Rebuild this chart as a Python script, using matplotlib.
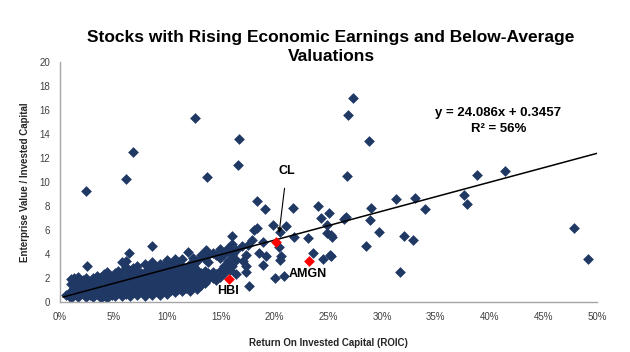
import matplotlib
matplotlib.use("Agg")
import matplotlib.pyplot as plt
import numpy as np
from matplotlib.ticker import FuncFormatter

plt.rcParams['font.family'] = ['Liberation Sans', 'DejaVu Sans']

# dense cluster of companies (ROIC %, EV/IC)
cluster_roic = [
    0.6,
    1.0, 1.0, 1.0, 1.0,
    1.3, 1.3, 1.3,
    1.7, 1.7, 1.7, 1.7,
    2.1, 2.1, 2.1,
    2.4, 2.4, 2.4, 2.4,
    2.8, 2.8, 2.8,
    3.1, 3.1, 3.1, 3.1,
    3.4, 3.4, 3.4, 3.4,
    3.8, 3.8, 3.8, 3.8, 3.8,
    4.1, 4.1, 4.1, 4.1,
    4.4, 4.4, 4.4, 4.4, 4.4,
    4.8, 4.8, 4.8, 4.8,
    5.1, 5.1, 5.1, 5.1, 5.1,
    5.4, 5.4, 5.4, 5.4, 5.4,
    5.8, 5.8, 5.8, 5.8, 5.8, 5.8,
    6.1, 6.1, 6.1, 6.1, 6.1,
    6.5, 6.5, 6.5, 6.5, 6.5,
    6.8, 6.8, 6.8, 6.8, 6.8,
    7.2, 7.2, 7.2, 7.2, 7.2, 7.2,
    7.5, 7.5, 7.5, 7.5,
    7.9, 7.9, 7.9, 7.9, 7.9, 7.9,
    8.2, 8.2, 8.2, 8.2, 8.2,
    8.6, 8.6, 8.6, 8.6, 8.6, 8.6,
    8.9, 8.9, 8.9, 8.9, 8.9,
    9.3, 9.3, 9.3, 9.3, 9.3, 9.3,
    9.6, 9.6, 9.6, 9.6, 9.6,
    10.0, 10.0, 10.0, 10.0, 10.0, 10.0,
    10.3, 10.3, 10.3, 10.3, 10.3,
    10.7, 10.7, 10.7, 10.7, 10.7, 10.7,
    11.0, 11.0, 11.0, 11.0, 11.0,
    11.4, 11.4, 11.4, 11.4, 11.4, 11.4,
    11.7, 11.7, 11.7, 11.7,
    12.1, 12.1, 12.1, 12.1, 12.1,
    12.4, 12.4, 12.4, 12.4, 12.4,
    12.8, 12.8, 12.8, 12.8, 12.8,
    13.1, 13.1, 13.1, 13.1,
    13.5, 13.5, 13.5, 13.5, 13.5,
    13.8, 13.8, 13.8, 13.8,
    14.2, 14.2, 14.2,
    14.5, 14.5, 14.5,
    14.9, 14.9, 14.9, 14.9,
    15.3, 15.3, 15.3,
    15.6, 15.6, 15.6,
    16.0, 16.0, 16.0,
    16.4, 16.4, 16.4,
    17.3, 17.3,
]
cluster_ev = [
    0.55,
    0.35, 0.9, 1.5, 1.9,
    0.6, 1.2, 2.0,
    0.45, 1.0, 1.6, 2.1,
    0.7, 1.3, 1.8,
    0.4, 1.0, 1.6, 2.0,
    0.6, 1.2, 1.7,
    0.4, 0.9, 1.4, 2.0,
    0.7, 1.2, 1.8, 2.2,
    0.3, 0.8, 1.3, 1.7, 2.1,
    0.55, 1.0, 1.5, 2.3,
    0.35, 0.9, 1.3, 1.8, 2.5,
    0.6, 1.1, 1.6, 2.1,
    0.5, 1.0, 1.4, 1.9, 2.4,
    0.8, 1.2, 1.7, 2.2, 2.6,
    0.5, 1.0, 1.5, 2.0, 2.5, 3.3,
    0.7, 1.2, 1.8, 2.3, 2.9,
    0.5, 1.0, 1.5, 2.0, 2.6,
    0.8, 1.3, 1.7, 2.2, 2.8,
    0.6, 1.1, 1.6, 2.1, 2.6, 3.0,
    0.9, 1.4, 1.9, 2.4,
    0.5, 1.0, 1.5, 2.0, 2.5, 3.2,
    0.8, 1.3, 1.8, 2.3, 2.9,
    0.6, 1.1, 1.6, 2.1, 2.6, 3.3,
    0.9, 1.4, 1.9, 2.4, 2.9,
    0.6, 1.2, 1.7, 2.2, 2.7, 3.2,
    0.9, 1.4, 1.9, 2.5, 3.0,
    0.7, 1.2, 1.7, 2.2, 2.8, 3.5,
    1.0, 1.5, 2.0, 2.5, 3.1,
    0.8, 1.3, 1.8, 2.3, 2.9, 3.6,
    1.1, 1.6, 2.1, 2.7, 3.3,
    0.9, 1.4, 1.9, 2.4, 3.0, 3.6,
    1.2, 1.7, 2.2, 2.8,
    0.9, 1.5, 2.0, 2.6, 3.2,
    1.3, 1.8, 2.3, 3.0, 3.7,
    1.1, 1.6, 2.1, 2.7, 3.4,
    1.4, 1.9, 2.4, 3.9,
    1.6, 2.2, 2.6, 3.6, 4.2,
    1.9, 2.4, 3.3, 3.9,
    2.0, 2.5, 4.1,
    1.8, 2.3, 3.9,
    2.1, 2.6, 3.7, 4.4,
    2.4, 3.0, 4.0,
    2.8, 3.4, 4.5,
    3.0, 3.9, 4.8,
    2.3, 3.5, 4.3,
    3.0, 3.9,
]

# scattered companies away from the cluster
other_roic = [2.4, 6.1, 6.8, 12.6, 13.7, 2.5, 6.4, 6.1, 8.6, 11.9, 13.6,
              16.7, 16.6, 18.3, 19.1, 21.7, 18.3, 19.8, 21.0,
              27.3, 26.8, 28.8, 26.7, 24.0, 25.0, 26.6, 26.4, 29.0, 28.9,
              31.3, 29.7, 28.5, 25.2, 24.9, 25.3, 23.1, 21.8, 20.5, 18.1,
              16.0, 17.9, 20.4, 20.6, 20.5, 23.6, 24.5, 25.1, 20.0, 20.9,
              17.6, 19.2, 18.5, 17.3, 31.7, 17.0, 38.8, 41.4, 37.6, 37.9,
              33.1, 34.0, 32.0, 32.9, 24.3, 24.9, 25.2, 47.9, 49.2, 18.9,
              17.5, 18.9, 16.1, 15.8, 16.9]
other_ev = [9.27, 10.25, 12.5, 15.3, 10.4, 3.0, 4.05, 3.4, 4.67, 4.2, 4.33,
            13.6, 11.4, 8.45, 7.75, 7.86, 6.2, 6.4, 6.3,
            17.0, 15.6, 13.4, 10.5, 8.0, 7.45, 7.1, 6.9, 7.8, 6.8,
            8.55, 5.8, 4.67, 5.6, 6.45, 5.45, 5.3, 5.4, 5.8, 6.0,
            5.5, 5.2, 4.6, 3.8, 3.5, 4.05, 3.55, 3.95, 2.0, 2.17,
            1.33, 3.8, 4.1, 2.5, 2.5, 3.4, 10.55, 10.9, 8.95, 8.2,
            8.67, 7.75, 5.5, 5.2, 6.97, 5.75, 3.86, 6.14, 3.56, 5.0,
            4.75, 3.1, 4.1, 2.7, 4.67]

# highlighted stocks
hl_names = ['CL', 'AMGN', 'HBI']
hl_roic = [20.1, 23.2, 15.7]
hl_ev = [5.0, 3.45, 1.9]

# linear fit shown on the chart (x as fraction)
fit_slope = 24.086
fit_intercept = 0.3457
fit_r2 = 0.56

navy = '#1F3864'
msize = 30

fig = plt.figure(figsize=(6.3, 3.52), dpi=100)
ax = fig.add_axes([60 / 630, 50 / 352, 537 / 630, 240 / 352])

ax.scatter(cluster_roic, cluster_ev, marker='D', s=msize, color=navy, linewidths=0, zorder=2)
ax.scatter(other_roic, other_ev, marker='D', s=msize, color=navy, linewidths=0, zorder=2)
ax.scatter(hl_roic, hl_ev, marker='D', s=msize, color='#FF0000', linewidths=0, zorder=4)

xs = np.array([0.3, 50.0])
ax.plot(xs, fit_slope * xs / 100 + fit_intercept, color='black', lw=1.1, zorder=3)

ax.set_xlim(0, 50)
ax.set_ylim(0, 20)
ax.set_xticks(range(0, 51, 5))
ax.set_yticks(range(0, 21, 2))
ax.xaxis.set_major_formatter(FuncFormatter(lambda v, p: f'{v:.0f}%'))
ax.tick_params(length=0, labelsize=7, colors='#404040', pad=7)
for s in ['top', 'right']:
    ax.spines[s].set_visible(False)
for s in ['left', 'bottom']:
    ax.spines[s].set_color('#A6A6A6')
    ax.spines[s].set_linewidth(1.0)

ax.set_xlabel('Return On Invested Capital (ROIC)', fontsize=7, fontweight='bold',
              color='#262626', labelpad=12)
ax.set_ylabel('Enterprise Value / Invested Capital', fontsize=7, fontweight='bold',
              color='#262626', labelpad=7)

# labels for highlighted stocks
ax.annotate('CL', xy=(20.4, 5.75), xytext=(21.1, 10.9), ha='center', va='center',
            fontsize=9, fontweight='bold',
            arrowprops=dict(arrowstyle='-|>', color='black', lw=0.8, mutation_scale=7,
                            shrinkA=6, shrinkB=0))
ax.text(23.1, 2.33, 'AMGN', ha='center', va='center', fontsize=9, fontweight='bold')
ax.text(15.6, 0.9, 'HBI', ha='center', va='center', fontsize=9, fontweight='bold')

ax.text(40.8, 15.75, f'y = {fit_slope}x + {fit_intercept}', ha='center', va='center',
        fontsize=9.5, fontweight='bold')
ax.text(40.8, 14.4, f'R² = {fit_r2:.0%}', ha='center', va='center',
        fontsize=9.5, fontweight='bold')

fig.text(331 / 630, 1 - 47 / 352, 'Stocks with Rising Economic Earnings and Below-Average\nValuations',
         ha='center', va='center', fontsize=12.5, fontweight='bold', linespacing=1.35)

fig.savefig('out.png', dpi=100)
